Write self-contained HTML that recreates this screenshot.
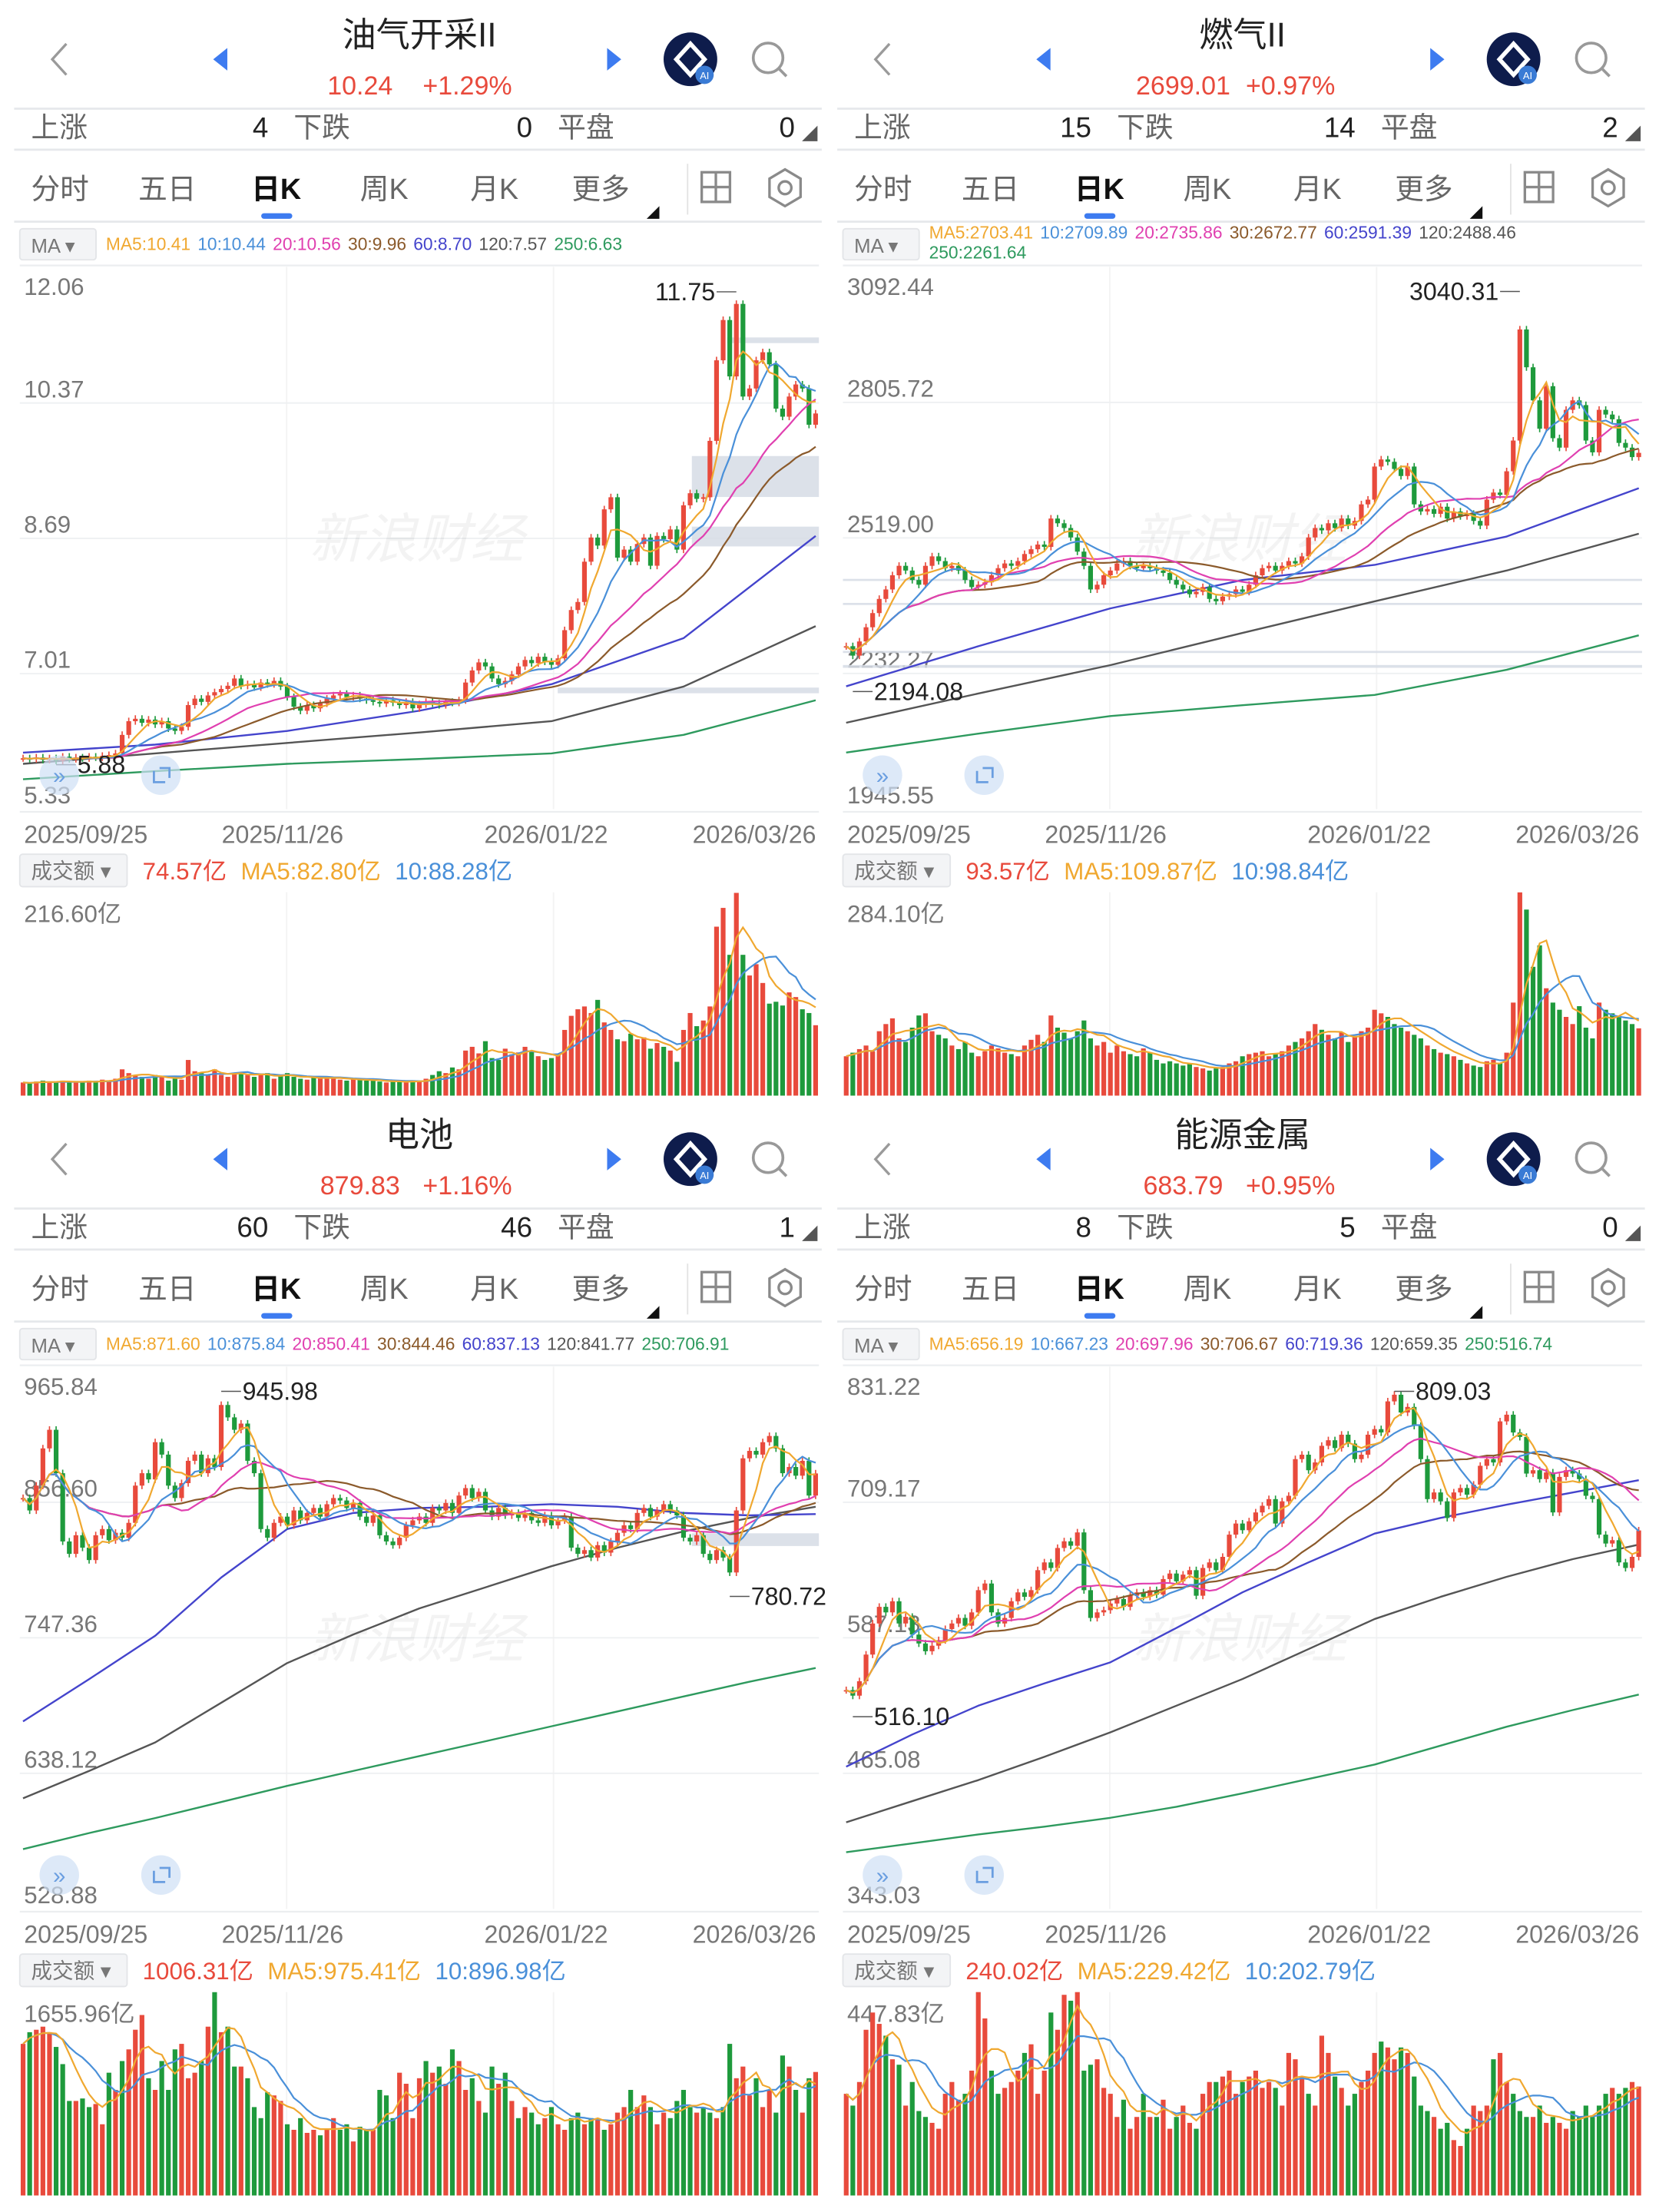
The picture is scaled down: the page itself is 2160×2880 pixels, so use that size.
<!DOCTYPE html>
<html><head><meta charset="utf-8">
<style>
html,body{margin:0;padding:0;background:#fff;}
svg{display:block;font-family:"Liberation Sans","Noto Sans CJK SC",sans-serif;}
</style></head>
<body>
<svg id="root" xmlns="http://www.w3.org/2000/svg" width="2160" height="2880" viewBox="0 0 1175 1566.7">
<rect x="0" y="0" width="1175" height="1567" fill="#fff"/>
</svg>
<script>
// ---------- Panel 1: 油气开采II ----------
const p1Close=[5.96,5.95,5.97,5.94,5.96,5.93,5.98,5.95,5.97,5.96,5.98,5.97,5.99,6.00,6.02,
6.25,6.42,6.45,6.40,6.44,6.38,6.42,6.33,6.30,6.35,
6.62,6.70,6.66,6.74,6.78,6.82,6.86,6.95,
6.86,6.88,6.84,6.90,6.88,6.92,6.85,
6.72,6.60,6.55,6.62,6.58,6.64,
6.70,6.74,6.76,6.72,6.74,6.70,6.68,
6.66,6.64,6.68,6.65,6.62,6.66,6.58,6.63,6.66,6.64,6.62,6.66,6.65,6.68,
6.90,7.05,7.15,7.10,
6.95,6.88,6.92,7.00,
7.10,7.18,7.14,7.22,7.16,7.12,7.20,
7.55,7.80,7.90,
8.40,8.70,8.60,
9.05,9.20,8.45,
8.55,8.40,8.62,8.70,8.35,8.72,8.68,8.80,8.55,
9.10,9.25,9.18,9.20,
9.90,
10.90,11.40,10.70,11.60,
10.45,10.55,10.90,11.00,10.85,
10.30,10.20,10.45,10.60,10.55,
10.10,10.24];
const p1Vol=[14,13,15,16,14,15,16,14,15,14,16,15,17,16,18,
28,24,22,20,18,22,20,16,18,17,
38,26,24,22,28,22,20,24,
25,22,20,22,24,18,21,
24,20,18,17,19,20,
20,18,17,16,18,17,16,
16,15,14,16,15,14,16,15,18,22,26,24,30,28,
48,52,45,58,
40,38,50,44,
46,52,48,42,38,40,44,
70,85,92,
95,88,102,
78,70,60,
58,66,60,62,50,56,52,48,36,
70,88,74,80,
95,
180,200,150,216,
150,128,140,120,98,
100,96,110,105,92,
88,75];
const p1Ma60=[6.03,6.13,6.30,6.55,6.88,7.45,8.72];
const p1Ma120=[5.89,6.02,6.15,6.28,6.42,6.85,7.60];
const p1Ma250=[5.70,5.80,5.89,5.95,6.02,6.25,6.68];
const p1Ticks=['12.06','10.37','8.69','7.01','5.33'];

// ---------- Panel 2: 燃气II ----------
const p2Close=[2290,2270,2300,2330,2360,
2390,2410,2440,2460,2450,
2430,2420,2460,2480,2470,
2455,2460,2450,
2430,2415,2420,2425,
2440,2455,2465,2460,2470,2485,
2495,2505,2500,
2560,2550,2540,2520,
2490,2460,2410,2420,2440,
2450,2465,2470,2460,2455,
2460,2455,2450,2445,
2430,2420,2410,2400,2405,2415,
2390,2385,2395,
2400,2410,2405,2420,
2440,2455,2460,2450,
2460,2470,2465,2480,
2520,2540,2535,
2550,2540,2560,2545,2555,
2590,2600,
2670,2685,2680,
2665,2650,2670,
2590,2575,
2580,2570,2585,2560,2575,2565,2570,2555,2545,
2600,2615,2610,
2660,2725,
2960,2880,2810,
2750,2840,2730,2710,
2790,2810,2800,2725,2700,
2790,2780,2770,
2720,2710,2690,2699.01];
const p2Vol=[55,60,65,70,62,
90,100,108,80,75,
95,112,115,90,85,
80,70,65,
75,60,55,62,
70,66,60,58,55,70,
78,85,75,
112,95,88,80,
90,105,80,70,75,
60,70,62,58,55,
66,60,50,45,
48,45,42,44,40,38,
35,38,40,
45,48,55,58,
60,62,55,58,
62,70,75,80,
90,100,92,
85,80,88,75,82,
90,95,
120,115,110,
100,95,90,
85,80,
70,65,60,58,55,50,45,42,40,
48,50,45,
60,130,
284,260,180,
210,150,130,120,
110,100,125,95,80,
130,120,115,
110,105,100,94];
const p2Ma60=[2205,2290,2370,2430,2462,2522,2624];
const p2Ma120=[2128,2190,2250,2318,2385,2450,2528];
const p2Ma250=[2065,2105,2142,2165,2187,2240,2313];
const p2Ticks=['3092.44','2805.72','2519.00','2232.27','1945.55'];

// ---------- Panel 3: 电池 ----------
const p3Close=[860,850,870,
900,915,880,
825,815,830,
820,810,830,835,
826,832,828,840,
870,880,875,
905,895,
870,860,872,
890,895,880,892,
885,
935,
925,915,920,
890,880,
835,828,840,
845,838,850,842,
848,852,845,855,
860,858,852,856,
845,840,846,
830,825,822,828,
838,842,845,840,
852,850,856,848,
862,868,860,865,
850,845,852,846,848,
844,848,842,840,846,838,842,845,
820,815,818,812,822,816,825,
832,838,835,
848,852,845,850,855,850,846,
828,825,830,
815,810,818,812,
800,
850,
892,898,895,
905,910,900,
880,885,878,
890,
862,
879.83];
const p3Vol=[1235,1330,1350,1375,1330,1210,
1070,770,770,
790,720,745,580,
1000,860,1095,1190,
1350,1470,955,
860,1095,860,
1190,1235,955,1000,
1095,1375,1656,1330,
1375,1050,1050,955,
720,630,840,815,
770,580,535,630,
510,535,490,535,
630,535,580,440,
560,535,535,860,
815,630,1000,910,
630,955,1095,1000,
1050,910,1190,1095,
860,955,770,675,
1050,910,1000,770,
630,720,675,580,
630,720,580,535,
630,675,580,630,
630,535,580,675,
720,860,720,815,
720,580,675,630,
770,860,720,675,
720,675,630,720,
1235,955,1050,815,
955,720,860,675,
1140,1050,860,675,
955,1006];
const p3Ma60=[680,714,749,796,835,848,852,853,855,853,848,846,847];
const p3Ma120=[618,640,663,695,727,750,771,788,805,820,833,844,853];
const p3Ma250=[577,590,602,615,628,640,652,664,676,688,700,712,723];
const p3Ticks=['965.84','856.60','747.36','638.12','528.88'];

// ---------- Panel 4: 能源金属 ----------
const p4Close=[540,535,548,
572,
600,615,610,620,
600,606,
590,582,575,580,585,
595,600,605,598,610,
630,636,
610,600,605,
620,628,624,630,
648,655,650,
668,674,670,
682,
630,
605,610,612,
618,622,615,625,
628,624,630,626,
640,645,638,644,648,625,
650,655,648,660,
680,690,684,692,700,
706,712,690,
710,715,
748,752,
738,745,
760,765,758,770,762,
748,752,770,
775,772,
800,806,
790,795,
778,
748,
712,718,710,695,
718,722,716,725,
742,748,745,
782,788,
772,768,
735,738,730,736,
700,
732,738,735,730,
715,712,
680,672,675,
655,650,660,
683.79];
const p4Vol=[224,198,250,365,
403,378,352,300,
288,198,250,186,
173,160,147,224,
250,211,224,275,
448,390,275,224,
237,250,275,314,
333,224,275,403,
365,442,429,448,
275,288,300,237,
224,173,211,147,
173,224,173,173,
211,147,173,198,
160,147,224,250,
250,262,275,224,
250,262,275,237,
250,237,198,314,
300,262,224,198,
352,314,262,237,
198,224,250,275,
314,339,326,300,
326,314,262,198,
186,173,147,160,
122,109,147,198,
186,198,300,314,
250,224,186,173,
173,198,160,173,
160,147,186,173,
198,173,198,224,
237,224,237,250,
240];
const p4Ma60=[471,500,526,546,565,596,628,655,681,695,707,718,729];
const p4Ma120=[421,440,459,480,502,526,550,577,604,624,642,658,671];
const p4Ma250=[394,402,410,417,425,435,447,460,473,490,507,522,536];
const p4Ticks=['831.22','709.17','587.13','465.08','343.03'];

const panels=[
 {dx:0,dy:0,title:'油气开采II',price:'10.24',pct:'+1.29%',up:'4',down:'0',flat:'0',
  ma:['MA5:10.41','10:10.44','20:10.56','30:9.96','60:8.70','120:7.57','250:6.63'],wrap:false,
  yMax:12.06,yMin:5.33,ticks:p1Ticks,close:p1Close,vol:p1Vol,ma60:p1Ma60,ma120:p1Ma120,ma250:p1Ma250,
  volMax:216.6,volTop:'216.60亿',volTxt:['74.57亿','MA5:82.80亿','10:88.28亿'],
  hi:'11.75',hiLeft:true,lo:'5.88',
  bands:[[515,239,65,4],[490,323,90,29],[490,373,90,14],[395,487,185,4]]},
 {dx:583,dy:0,title:'燃气II',price:'2699.01',pct:'+0.97%',up:'15',down:'14',flat:'2',
  ma:['MA5:2703.41','10:2709.89','20:2735.86','30:2672.77','60:2591.39','120:2488.46','250:2261.64'],wrap:true,
  yMax:3092.44,yMin:1945.55,ticks:p2Ticks,close:p2Close,vol:p2Vol,ma60:p2Ma60,ma120:p2Ma120,ma250:p2Ma250,
  volMax:284.1,volTop:'284.10亿',volTxt:['93.57亿','MA5:109.87亿','10:98.84亿'],
  hi:'3040.31',hiLeft:true,lo:'2194.08',
  bands:[[14,410,566,1.5],[14,427,566,1.5],[14,461,566,1.5],[14,471,566,2]]},
 {dx:0,dy:779,title:'电池',price:'879.83',pct:'+1.16%',up:'60',down:'46',flat:'1',
  ma:['MA5:871.60','10:875.84','20:850.41','30:844.46','60:837.13','120:841.77','250:706.91'],wrap:false,
  yMax:965.84,yMin:528.88,ticks:p3Ticks,close:p3Close,vol:p3Vol,ma60:p3Ma60,ma120:p3Ma120,ma250:p3Ma250,
  volMax:1655.96,volTop:'1655.96亿',volTxt:['1006.31亿','MA5:975.41亿','10:896.98亿'],
  hi:'945.98',hiLeft:false,lo:'780.72',
  bands:[[490,307,90,9]]},
 {dx:583,dy:779,title:'能源金属',price:'683.79',pct:'+0.95%',up:'8',down:'5',flat:'0',
  ma:['MA5:656.19','10:667.23','20:697.96','30:706.67','60:719.36','120:659.35','250:516.74'],wrap:false,
  yMax:831.22,yMin:343.03,ticks:p4Ticks,close:p4Close,vol:p4Vol,ma60:p4Ma60,ma120:p4Ma120,ma250:p4Ma250,
  volMax:447.83,volTop:'447.83亿',volTxt:['240.02亿','MA5:229.42亿','10:202.79亿'],
  hi:'809.03',hiLeft:false,lo:'516.10',
  bands:[]}
];

const NS='http://www.w3.org/2000/svg';
const svg=document.getElementById('root');
const RED='#e84a3c', GRN='#1e9a3c';
const MACOL=['#f0a830','#4a90d9','#e040b0','#8b5a2b','#4444cc','#555555','#2e9a5e'];
function mk(tag,parent){const e=document.createElementNS(NS,tag);parent.appendChild(e);return e;}
function set(e,o){for(const k in o)e.setAttribute(k,o[k]);return e;}
function txt(parent,x,y,s,size,fill,anchor,weight){
  const t=mk('text',parent);
  set(t,{x:x,y:y,'font-size':size,fill:fill,'text-anchor':anchor||'start','font-weight':weight||'normal'});
  t.textContent=s;return t;
}
function movAvg(arr,k){return arr.map((v,i)=>{let s=0,n=0;for(let j=Math.max(0,i-k+1);j<=i;j++){s+=arr[j];n++;}return s/n;});}

const CT=189, CB=573, CL=14, CW=566, VT=632, VB=776;

panels.forEach((p,pi)=>{
  const g=mk('g',svg);
  set(g,{transform:'translate('+p.dx+','+p.dy+')'});
  
  

  const back=mk('polyline',g);
  set(back,{points:'47,31 37,42 47,53',fill:'none',stroke:'#9a9a9a','stroke-width':1.8});
  
  
  const prev=mk('polygon',g);
  set(prev,{points:'161,34 151,42 161,50',fill:'#3d7bf0'});
  
  
  const next=mk('polygon',g);
  set(next,{points:'430,34 440,42 430,50',fill:'#3d7bf0'});
  
  
  const title=txt(g,297,33,p.title,24,'#222','middle');
  
  
  const price=txt(g,255,67,p.price,18.5,RED,'middle');
  
  
  const pct=txt(g,331,67,p.pct,18.5,RED,'middle');
  
  
  const ai=mk('g',g);
  
  
  set(mk('circle',ai),{cx:489,cy:42,r:19,fill:'#0e1c4c'});
  set(mk('polygon',ai),{points:'489,31 499,42 489,53 479,42',fill:'none',stroke:'#fff','stroke-width':3});
  set(mk('circle',ai),{cx:499,cy:53,r:6.5,fill:'#3a7bd5'});
  const aiT=txt(ai,499,56,'AI',7,'#fff','middle');
  
  
  const srch=mk('g',g);
  
  
  set(mk('circle',srch),{cx:544,cy:41,r:10.5,fill:'none',stroke:'#999','stroke-width':2});
  set(mk('line',srch),{x1:552,y1:49,x2:557,y2:54,stroke:'#999','stroke-width':2});

  [77,106,157].forEach(yy=>{
    const l=mk('line',g);
    set(l,{x1:10,x2:582,y1:yy,y2:yy,stroke:'#e6e8eb','stroke-width':1.5});
    
    
  });

  const br=[['上涨',22,'#666','start'],[p.up,190,'#222','end'],['下跌',208,'#666','start'],[p.down,377,'#222','end'],['平盘',395,'#666','start'],[p.flat,563,'#222','end']];
  br.forEach(b=>{
    const t=txt(g,b[1],97,b[0],20,b[2],b[3]);
    
    
  });
  const brTri=mk('polygon',g);
  set(brTri,{points:'568,100 579,100 579,89',fill:'#555'});
  
  

  const tabs=[['分时',22],['五日',98],['日K',178],['周K',255],['月K',333],['更多',405]];
  tabs.forEach(tb=>{
    const act=tb[0]==='日K';
    const t=txt(g,tb[1],141,tb[0],20.5,act?'#111':'#666','start',act?'bold':'normal');
    
    
  });
  const ul=mk('rect',g);
  set(ul,{x:185,y:151,width:22,height:4,rx:2,fill:'#3d7bf0'});
  
  
  const moreTri=mk('polygon',g);
  set(moreTri,{points:'458,155 467,155 467,146',fill:'#111'});
  
  
  const sep=mk('line',g);
  set(sep,{x1:487,x2:487,y1:116,y2:152,stroke:'#e3e3e3','stroke-width':1});
  
  
  const grid=mk('g',g);
  
  
  set(mk('rect',grid),{x:497,y:122,width:20,height:21,fill:'none',stroke:'#8a8a8a','stroke-width':1.8});
  set(mk('line',grid),{x1:507,x2:507,y1:122,y2:143,stroke:'#8a8a8a','stroke-width':1.8});
  set(mk('line',grid),{x1:497,x2:517,y1:132.5,y2:132.5,stroke:'#8a8a8a','stroke-width':1.8});
  const gear=mk('g',g);
  
  
  set(mk('polygon',gear),{points:'556,120 567,126.5 567,139.5 556,146 545,139.5 545,126.5',fill:'none',stroke:'#8a8a8a','stroke-width':1.8});
  set(mk('circle',gear),{cx:556,cy:133,r:4.5,fill:'none',stroke:'#8a8a8a','stroke-width':1.8});

  const maBox=mk('rect',g);
  set(maBox,{x:14,y:162,width:54,height:22,rx:2,fill:'#f3f4f6',stroke:'#e3e5e8'});
  
  
  const maLab=txt(g,22,179,'MA ▾',14,'#777');
  
  
  const maT=txt(g,75,p.wrap?169:177,'',12.4,'#333');
  
  
  p.ma.forEach((m,k)=>{
    const ts=mk('tspan',maT);
    if(p.wrap&&k===6){set(ts,{x:75,y:183});} else if(k>0){set(ts,{dx:5});}
    set(ts,{fill:MACOL[k]});
    ts.textContent=m;
    
    
  });

  const yS=v=>CT+(p.yMax-v)/(p.yMax-p.yMin)*(CB-CT);
  [CT-1,CB+2].forEach(yy=>{
    const l=mk('line',g);
    set(l,{x1:CL,x2:CL+CW,y1:yy,y2:yy,stroke:'#eceef0','stroke-width':1.2});
    
    
  });
  [203,392].forEach(xx=>{
    const l=mk('line',g);
    set(l,{x1:xx,x2:xx,y1:CT,y2:CB,stroke:'#f3f3f3','stroke-width':1});
    
    
    const l2=mk('line',g);
    set(l2,{x1:xx,x2:xx,y1:VT,y2:VB,stroke:'#f3f3f3','stroke-width':1});
    
    
  });
  p.ticks.forEach((tk,k)=>{
    const v=parseFloat(tk);
    const yy=yS(v);
    if(k>0&&k<p.ticks.length-1){
      const l=mk('line',g);
      set(l,{x1:CL,x2:CL+CW,y1:yy,y2:yy,stroke:'#eef0f2','stroke-width':1});
      
      
    }
    const t=txt(g,17,k===0?yy+20:yy-4,tk,17,'#777');
    
    
  });
  const wm=txt(g,295,395,'新浪财经',38,'#000','middle');
  set(wm,{opacity:0.045,'font-style':'italic'});
  
  

  p.bands.forEach(b=>{
    const r=mk('rect',g);
    set(r,{x:b[0],y:b[1],width:b[2],height:b[3],fill:'#d6dce5',opacity:0.85});
    
    
  });

  const N=p.close.length, step=CW/N;
  const xS=i=>CL+(i+0.5)*step;
  [[p.ma250,6],[p.ma120,5],[p.ma60,4]].forEach(pair=>{
    const arr=pair[0];const sp=(N-1)/(arr.length-1);
    const pts=arr.map((v,j)=>xS(j*sp).toFixed(1)+','+yS(v).toFixed(1)).join(' ');
    const pl=mk('polyline',g);
    set(pl,{points:pts,fill:'none',stroke:MACOL[pair[1]],'stroke-width':1.3,'stroke-linejoin':'round'});
    
    
  });
  p.close.forEach((c,i)=>{
    const o=i===0?c:p.close[i-1];
    const up=c>=o;
    const col=up?RED:GRN;
    const yt=yS(Math.max(o,c)), yb=yS(Math.min(o,c));
    const wk=mk('line',g);
    set(wk,{x1:xS(i),x2:xS(i),y1:yt-2.5,y2:yb+2.5,stroke:col,'stroke-width':0.9});
    
    
    const bd=mk('rect',g);
    set(bd,{x:xS(i)-step*0.36,y:yt,width:step*0.72,height:Math.max(1,yb-yt),fill:col});
    
    
  });
  [[30,3],[20,2],[10,1],[5,0]].forEach(pair=>{
    const m=movAvg(p.close,pair[0]);
    const pts=m.map((v,i)=>xS(i).toFixed(1)+','+yS(v).toFixed(1)).join(' ');
    const pl=mk('polyline',g);
    set(pl,{points:pts,fill:'none',stroke:MACOL[pair[1]],'stroke-width':1.2});
    
    
  });
  let hiI=0,loI=0;
  p.close.forEach((c,i)=>{if(c>p.close[hiI])hiI=i;if(c<p.close[loI])loI=i;});
  const hy=yS(parseFloat(p.hi)), ly=yS(parseFloat(p.lo));
  const hx=xS(hiI);
  const hl=mk('line',g);
  set(hl,{x1:p.hiLeft?hx-14:hx,x2:p.hiLeft?hx:hx+14,y1:hy,y2:hy,stroke:'#555','stroke-width':0.8});
  
  
  const ht=txt(g,p.hiLeft?hx-15:hx+15,hy+6,p.hi,17.5,'#222',p.hiLeft?'end':'start');
  
  
  const lx=xS(loI);
  const ll=mk('line',g);
  set(ll,{x1:lx,x2:lx+14,y1:ly,y2:ly,stroke:'#555','stroke-width':0.8});
  
  
  const lt=txt(g,lx+15,ly+6,p.lo,17.5,'#222','start');
  
  

  const fb1=mk('g',g);
  
  
  set(mk('circle',fb1),{cx:42,cy:549,r:14,fill:'#cfdff5',opacity:0.7});
  const fb1t=txt(fb1,42,555,'»',16,'#6a9ee0','middle');
  
  
  const fb2=mk('g',g);
  
  
  set(mk('circle',fb2),{cx:114,cy:549,r:14,fill:'#cfdff5',opacity:0.7});
  set(mk('polyline',fb2),{points:'109,546 109,554 117,554',fill:'none',stroke:'#6a9ee0','stroke-width':1.5});
  set(mk('polyline',fb2),{points:'113,544 120,544 120,551',fill:'none',stroke:'#6a9ee0','stroke-width':1.5});

  [['2025/09/25',17,'start'],['2025/11/26',157,'start'],['2026/01/22',343,'start'],['2026/03/26',578,'end']].forEach(d=>{
    const t=txt(g,d[1],597,d[0],17.5,'#777',d[2]);
    
    
  });

  const vBox=mk('rect',g);
  set(vBox,{x:14,y:605,width:76,height:23,rx:2,fill:'#f3f4f6',stroke:'#e3e5e8'});
  
  
  const vLab=txt(g,22,622,'成交额 ▾',15,'#777');
  
  
  const vT=txt(g,101,623,'',17,'#333');
  
  
  p.volTxt.forEach((s,k)=>{
    const ts=mk('tspan',vT);
    if(k>0)set(ts,{dx:10});
    set(ts,{fill:[RED,'#f0a830','#4a90d9'][k]});
    ts.textContent=s;
    
    
  });
  const vtop=txt(g,17,653,p.volTop,17,'#777');
  
  
  const vS=v=>VB-v/p.volMax*(VB-VT);
  p.vol.forEach((v,i)=>{
    const c=p.close[i], o=i===0?c:p.close[i-1];
    const b=mk('rect',g);
    set(b,{x:xS(i)-step*0.36,y:vS(v),width:step*0.72,height:VB-vS(v),fill:c>=o?RED:GRN});
    
    
  });
  [[10,'#4a90d9'],[5,'#f0a830']].forEach(pair=>{
    const m=movAvg(p.vol,pair[0]);
    const pl=mk('polyline',g);
    set(pl,{points:m.map((v,i)=>xS(i).toFixed(1)+','+vS(v).toFixed(1)).join(' '),fill:'none',stroke:pair[1],'stroke-width':1.2});
    
    
  });
});
</script>
</body></html>
